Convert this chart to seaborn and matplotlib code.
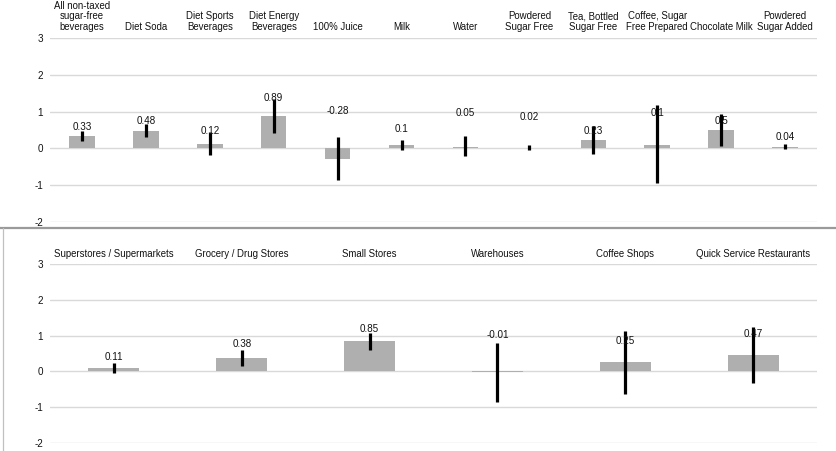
import matplotlib
matplotlib.use("Agg")
import matplotlib.pyplot as plt
from matplotlib.lines import Line2D
import seaborn as sns
import pandas as pd

# ---- data ----
top_categories = ["All non-taxed\nsugar-free\nbeverages", "Diet Soda", "Diet Sports\nBeverages",
                  "Diet Energy\nBeverages", "100% Juice", "Milk", "Water", "Powdered\nSugar Free",
                  "Tea, Bottled\nSugar Free", "Coffee, Sugar\nFree Prepared", "Chocolate Milk",
                  "Powdered\nSugar Added"]
top_values = [0.33, 0.48, 0.12, 0.89, -0.28, 0.10, 0.05, 0.02, 0.23, 0.10, 0.50, 0.04]
top_ci_low = [0.20, 0.32, -0.18, 0.43, -0.86, -0.05, -0.22, -0.05, -0.15, -0.94, 0.07, -0.02]
top_ci_high = [0.47, 0.65, 0.44, 1.35, 0.32, 0.24, 0.34, 0.09, 0.61, 1.17, 0.93, 0.13]
top_label_y = [0.58, 0.75, 0.48, 1.37, 1.02, 0.53, 0.97, 0.86, 0.48, 0.97, 0.75, 0.30]

bottom_categories = ["Superstores / Supermarkets", "Grocery / Drug Stores", "Small Stores",
                     "Warehouses", "Coffee Shops", "Quick Service Restaurants"]
bottom_values = [0.11, 0.38, 0.85, -0.01, 0.25, 0.47]
bottom_ci_low = [-0.04, 0.15, 0.59, -0.84, -0.63, -0.32]
bottom_ci_high = [0.24, 0.59, 1.06, 0.80, 1.12, 1.24]
bottom_label_y = [0.39, 0.76, 1.17, 1.01, 0.85, 1.05]

y_ticks = [-2, -1, 0, 1, 2, 3]

# ---- style ----
sns.set_style("white")
plt.rcParams['font.family'] = ['Liberation Sans', 'DejaVu Sans']

W, H = 837, 451
fig = plt.figure(figsize=(W / 100, H / 100), dpi=100)

BAR = "#afafaf"
GRID = "#d9d9d9"
FS = 6.9


def panel(rect, cats, vals, lo, hi, label_y, xpad):
    ax = fig.add_axes(rect)
    df = pd.DataFrame({"cat": cats, "val": vals})
    sns.barplot(data=df, x="cat", y="val", order=cats, color=BAR, saturation=1,
                width=0.4, errorbar=None, linewidth=0, ax=ax, zorder=2)
    xs = list(range(len(cats)))
    ax.vlines(xs, lo, hi, color="black", linewidth=2.3, zorder=3)
    for x, v, ly in zip(xs, vals, label_y):
        ax.text(x, ly, f"{v:g}", ha="center", va="center", fontsize=7.1,
                color="#111111", zorder=4)
    ax.set_ylim(-2, 3)
    ax.set_yticks(y_ticks)
    ax.set_yticklabels([str(t) for t in y_ticks])
    ax.set_xlim(-0.5, len(cats) - 0.5)
    ax.xaxis.tick_top()
    ax.set_xlabel("")
    ax.set_ylabel("")
    ax.tick_params(axis="x", length=0, pad=xpad, labelsize=FS, colors="#111111")
    for t in ax.get_xticklabels():
        t.set_linespacing(1.12)
    ax.tick_params(axis="y", length=0, pad=5, labelsize=7.1, colors="#111111")
    ax.grid(axis="y", color=GRID, linewidth=1)
    ax.grid(axis="x", visible=False)
    ax.set_axisbelow(True)
    for s in ax.spines.values():
        s.set_visible(False)
    return ax


def fx(px):
    return px / W


def fy(py):
    return 1 - py / H


panel([fx(50), fy(222), fx(817) - fx(50), fy(38) - fy(222)],
      top_categories, top_values, top_ci_low, top_ci_high, top_label_y, 4)
panel([fx(50), fy(443.3), fx(817) - fx(50), fy(263.7) - fy(443.3)],
      bottom_categories, bottom_values, bottom_ci_low, bottom_ci_high, bottom_label_y, 3.5)

# frame of lower panel
fig.add_artist(Line2D([0, 1], [fy(228), fy(228)], color="#9a9a9a", linewidth=1.6,
                      transform=fig.transFigure))
fig.add_artist(Line2D([fx(2.7), fx(2.7)], [fy(228), 0], color="#c0c0c0", linewidth=0.9,
                      transform=fig.transFigure))

fig.savefig("out.png", dpi=100)
